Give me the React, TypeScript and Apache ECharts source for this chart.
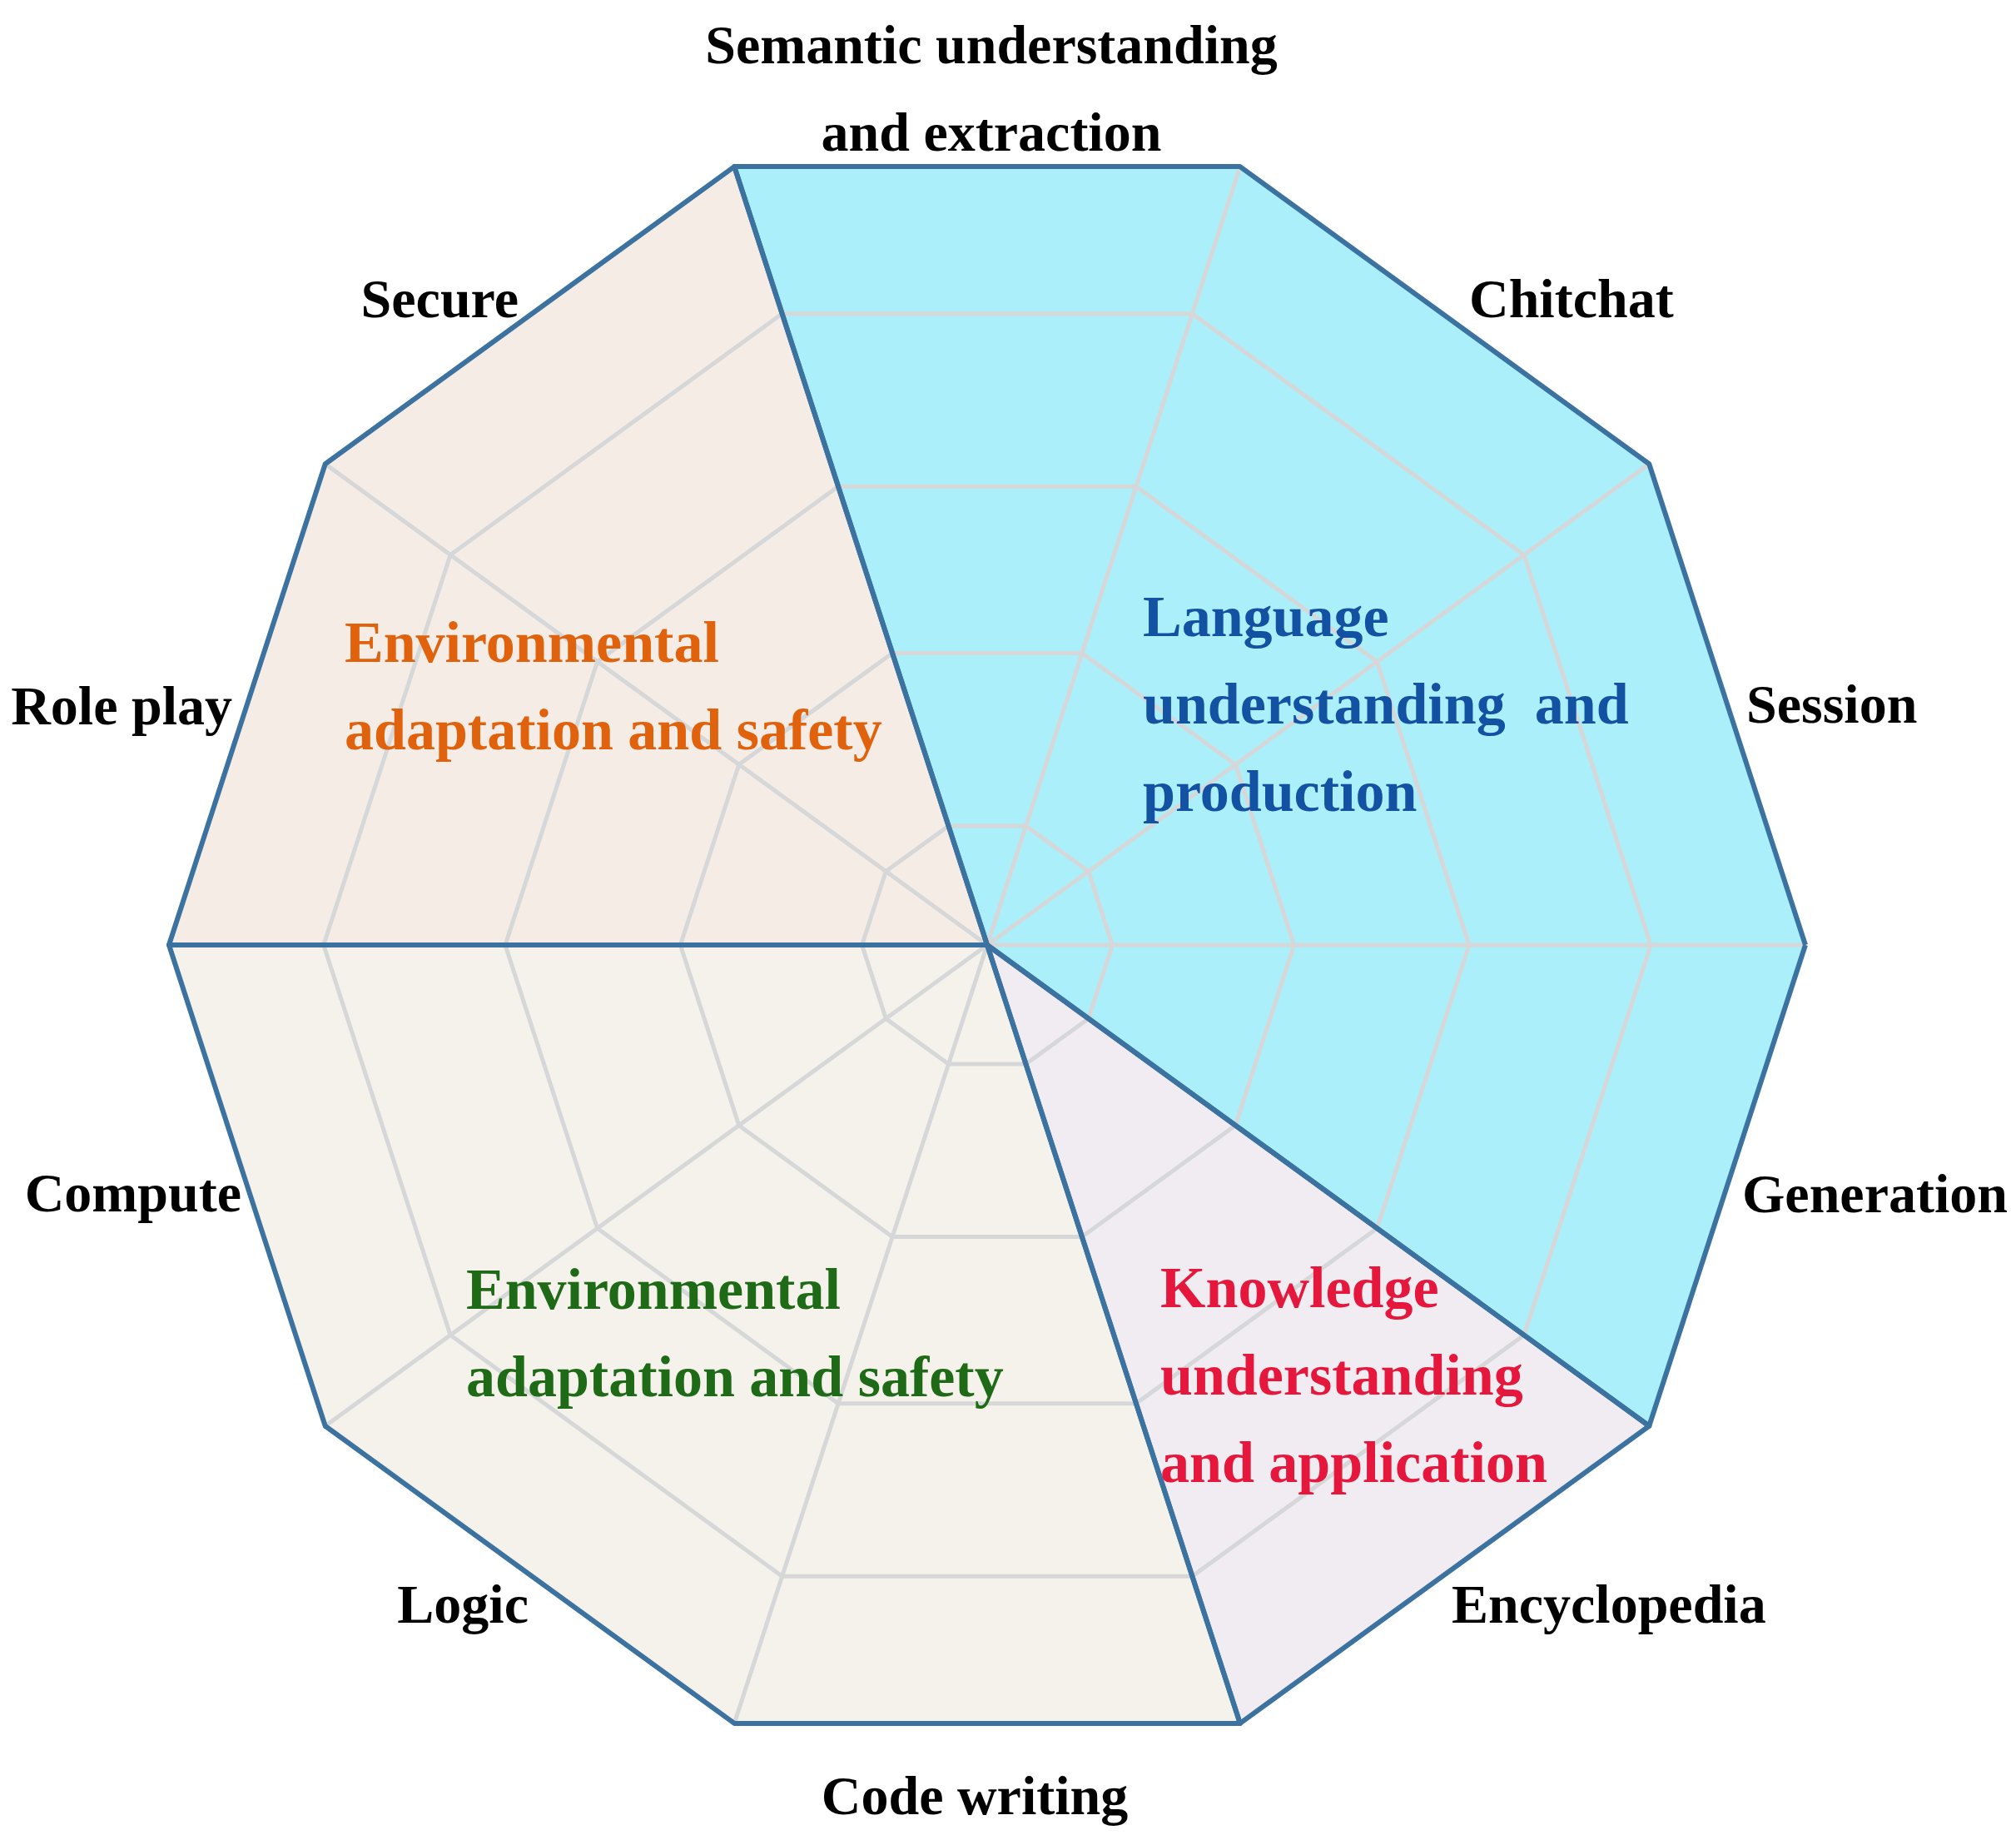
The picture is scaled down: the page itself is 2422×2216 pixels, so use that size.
import React, { useEffect, useRef } from "react";
import * as echarts from "echarts";

// ---------- data ----------
// radar vertices (counter-clockwise from 0°): 0,36,72,108,144,180,216,252,288,324 degrees
const vertexNames = ["v0", "v36", "v72", "v108", "v144", "v180", "v216", "v252", "v288", "v324"];

// category labels, placed at the middle of each outer edge (18°, 54°, ... counter-clockwise)
const categories = [
  "Session",
  "Chitchat",
  "Semantic understanding\nand extraction",
  "Secure",
  "Role play",
  "Compute",
  "Logic",
  "Code writing",
  "Encyclopedia",
  "Generation",
];

// sectors: 1 = vertex belongs to the sector outline, 0 = collapsed to centre
const languageSector = [1, 1, 1, 1, 0, 0, 0, 0, 0, 1];
const envSafetyUpperSector = [0, 0, 0, 1, 1, 1, 0, 0, 0, 0];
const envSafetyLowerSector = [0, 0, 0, 0, 0, 1, 1, 1, 1, 0];
const knowledgeSector = [0, 0, 0, 0, 0, 0, 0, 0, 1, 1];

const sectorNames = [
  "Language understanding and production",
  "Environmental adaptation and safety",
  "Environmental adaptation and safety ",
  "Knowledge understanding and application",
];
const sectorValues = [languageSector, envSafetyUpperSector, envSafetyLowerSector, knowledgeSector];

// grid rings (fraction of the outer radius)
const ringLevels = [0.153, 0.375, 0.589, 0.811];
// light spokes (vertex indices that are not sector boundaries)
const spokeVertices = [0, 1, 2, 4, 6, 7];

// sector titles
const sectorTitles = [
  "Language\nunderstanding  and\nproduction",
  "Environmental\nadaptation and safety",
  "Environmental\nadaptation and safety",
  "Knowledge\nunderstanding\nand application",
];

// ---------- styles / layout ----------
const CX = 1186;
const CY = 1135;
const R = 983;
const FONT = '"Liberation Serif", "Times New Roman", serif';
const fillColors = ["#ABEFFB", "#F5ECE6", "#F4F2EA", "#F0ECF1"];
const titleColors = ["#1351A3", "#E0620C", "#1F6A16", "#E5173C"];
const outlineColor = "#3C72A0";
const gridColor = "#D6D7D9";

const labelLayout = [
  { x: 2098, y: 845, align: "left" },
  { x: 1765, y: 358, align: "left" },
  { x: 1191, y: 106, align: "center" },
  { x: 623, y: 358, align: "right" },
  { x: 279, y: 847, align: "right" },
  { x: 290, y: 1432, align: "right" },
  { x: 635, y: 1926, align: "right" },
  { x: 1171, y: 2156, align: "center" },
  { x: 1744, y: 1926, align: "left" },
  { x: 2093, y: 1433, align: "left" },
];
const titleLayout = [
  { x: 1373, y: 740 },
  { x: 414, y: 771.5 },
  { x: 560, y: 1548.5 },
  { x: 1394, y: 1546.5 },
];

export default function App() {
  const ref = useRef<HTMLDivElement>(null);

  useEffect(() => {
    document.body.style.margin = "0";
    if (!ref.current) return;
    const chart = echarts.init(ref.current, undefined, { renderer: "svg" });

    const n = vertexNames.length;
    const spokeData = spokeVertices.map((vi) => ({
      name: "spoke " + vertexNames[vi],
      value: vertexNames.map((_, i) => (i === vi ? 1 : 0)),
    }));

    const categoryTexts = categories.map((c, i) => ({
      type: "text",
      x: labelLayout[i].x,
      y: labelLayout[i].y,
      z: 100,
      silent: true,
      style: {
        text: c,
        fill: "#000000",
        font: `bold 66px ${FONT}`,
        align: labelLayout[i].align,
        textAlign: labelLayout[i].align,
        verticalAlign: "middle",
        textVerticalAlign: "middle",
        lineHeight: 105,
      },
    }));

    const titleTexts = sectorTitles.map((t, i) => ({
      type: "text",
      x: titleLayout[i].x,
      y: titleLayout[i].y - 52.5,
      z: 100,
      silent: true,
      style: {
        text: t,
        fill: titleColors[i],
        font: `bold 70px ${FONT}`,
        align: "left",
        textAlign: "left",
        verticalAlign: "top",
        textVerticalAlign: "top",
        lineHeight: 105,
      },
    }));

    chart.setOption({
      animation: false,
      backgroundColor: "#ffffff",
      radar: {
        center: [CX, CY],
        radius: R,
        startAngle: 0,
        shape: "polygon",
        splitNumber: 1,
        indicator: vertexNames.map((nm) => ({ name: nm, min: 0, max: 1 })),
        axisName: { show: false },
        axisLine: { show: false },
        splitLine: { show: false },
        splitArea: { show: false },
        axisTick: { show: false },
        axisLabel: { show: false },
      },
      series: [
        {
          type: "radar",
          radarIndex: 0,
          z: 1,
          silent: true,
          symbol: "none",
          data: sectorValues.map((v, k) => ({
            name: sectorNames[k],
            value: v,
            areaStyle: { color: fillColors[k], opacity: 1 },
            lineStyle: { opacity: 0, width: 0 },
          })),
        },
        {
          type: "radar",
          radarIndex: 0,
          z: 2,
          silent: true,
          symbol: "none",
          data: [
            ...ringLevels.map((l) => ({
              name: "ring " + l,
              value: Array.from({ length: n }, () => l),
              lineStyle: { color: gridColor, width: 5, opacity: 1 },
            })),
            ...spokeData.map((d) => ({
              ...d,
              lineStyle: { color: gridColor, width: 5, opacity: 1 },
            })),
          ],
          lineStyle: { color: gridColor, width: 5, opacity: 1 },
        },
        {
          type: "radar",
          radarIndex: 0,
          z: 3,
          silent: true,
          symbol: "none",
          data: sectorValues.map((v, k) => ({
            name: sectorNames[k] + " outline",
            value: v,
            lineStyle: { color: outlineColor, width: 6, opacity: 1 },
          })),
          lineStyle: { color: outlineColor, width: 6, opacity: 1 },
        },
      ],
      graphic: { elements: [...categoryTexts, ...titleTexts] },
    });

    return () => chart.dispose();
  }, []);

  return (
    <div
      ref={ref}
      style={{ position: "absolute", left: 0, top: 0, width: 2422, height: 2216 }}
    />
  );
}
